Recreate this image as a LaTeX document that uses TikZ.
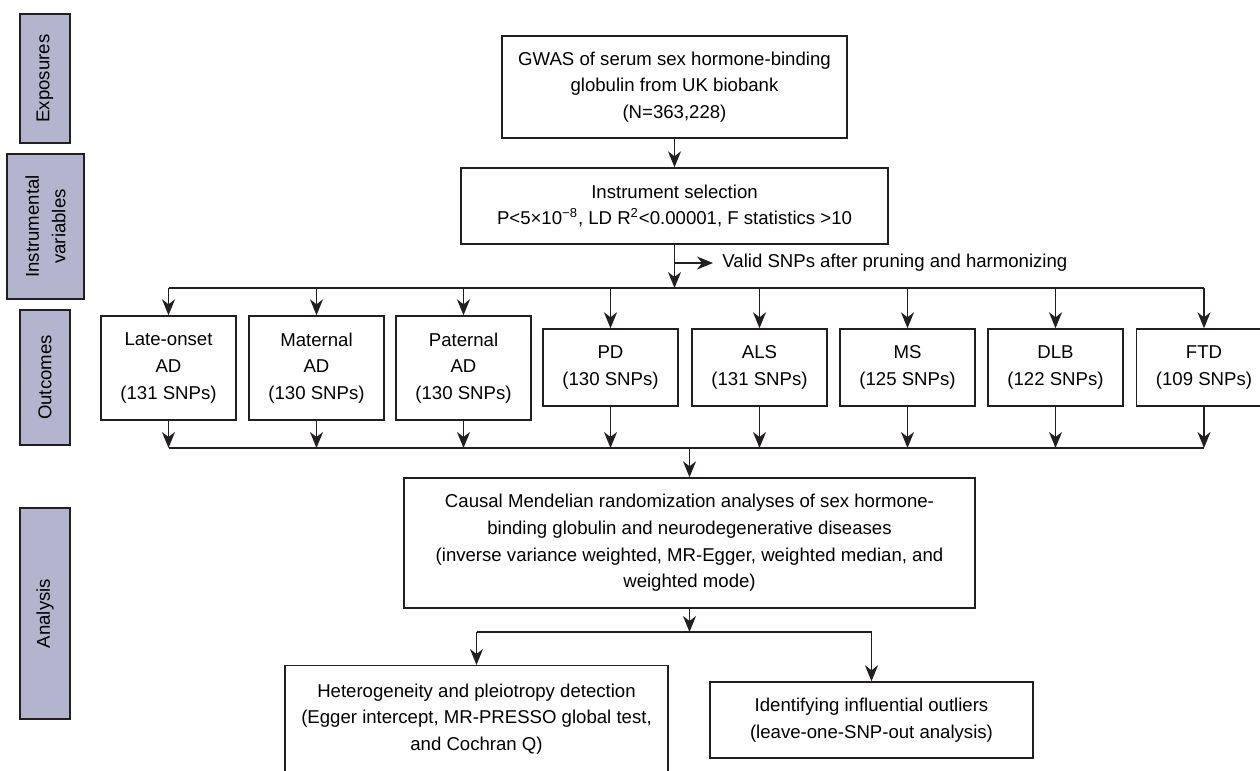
\documentclass[tikz,border=0pt]{standalone}
\usepackage{fontspec}
\setmainfont{Liberation Sans}
\usepackage{tikz}
\usetikzlibrary{arrows.meta}
\definecolor{sidefill}{HTML}{B3B5CE}
\definecolor{linegray}{HTML}{231F20}
\tikzset{
	box/.style={draw=linegray, line width=0.7pt, align=center, inner sep=0pt},
	sidebox/.style={box, fill=sidefill, rotate=90},
	outbox/.style={box, minimum width=67.5pt},
	arr/.style={draw=linegray, line width=0.7pt, -{Stealth[length=8pt,width=6.5pt,inset=2.5pt]}},
	bus/.style={draw=linegray, line width=0.7pt}
}

\begin{document}
\begin{tikzpicture}[x=0.5pt,y=-0.5pt,font=\fontsize{9.3}{13.3}\selectfont]
				\useasboundingbox (0,0) rectangle (1260,771);
				\clip (0,0) rectangle (1260,771);
				
				\node[sidebox, minimum width=64.5pt, minimum height=25pt] (expo) at (45,78.5) {Exposures};
				\node[sidebox, minimum width=72.5pt, minimum height=38.5pt] (instvar) at (45.5,226.5) {Instrumental\\variables};
				\node[sidebox, minimum width=67.5pt, minimum height=25pt] (outc) at (45,377.5) {Outcomes};
				\node[sidebox, minimum width=105.5pt, minimum height=25pt] (anal) at (45,613.5) {Analysis};
				
				\node[box, minimum width=172.5pt, minimum height=51pt] (gwas) at (674.5,87) {GWAS of serum sex hormone-binding\\globulin from UK biobank\\(N=363,228)};
				\node[box, minimum width=213.5pt, minimum height=38pt] (instsel) at (674.5,206) {Instrument selection\\P<5×10\textsuperscript{−8}, LD R\textsuperscript{2}<0.00001, F statistics >10};
				\node[anchor=west, inner sep=0pt, inner xsep=4.5pt] (valid) at (713,263) {Valid SNPs after pruning and harmonizing};
				
				\node[outbox, minimum height=52pt] (lateAD) at (168.5,368) {Late-onset\\AD\\(131 SNPs)};
				\node[outbox, minimum height=52pt] (matAD) at (316.5,368) {Maternal\\AD\\(130 SNPs)};
				\node[outbox, minimum height=52pt] (patAD) at (463.5,368) {Paternal\\AD\\(130 SNPs)};
				\node[outbox, minimum height=38.5pt] (pd) at (610.5,367.5) {PD\\(130 SNPs)};
				\node[outbox, minimum height=38.5pt] (als) at (759.5,367.5) {ALS\\(131 SNPs)};
				\node[outbox, minimum height=38.5pt] (ms) at (907.5,367.5) {MS\\(125 SNPs)};
				\node[outbox, minimum height=38.5pt] (dlb) at (1055.5,367.5) {DLB\\(122 SNPs)};
				\node[outbox, minimum height=38.5pt] (ftd) at (1204,367.5) {FTD\\(109 SNPs)};
				
				\node[box, minimum width=285.5pt, minimum height=65pt] (causal) at (689.5,543) {Causal Mendelian randomization analyses of sex hormone-\\binding globulin and neurodegenerative diseases\\(inverse variance weighted, MR-Egger, weighted median, and\\weighted mode)};
				\node[box, anchor=north, minimum width=191.5pt, inner ysep=9pt] (hetero) at (476.5,665) {Heterogeneity and pleiotropy detection\\(Egger intercept, MR-PRESSO global test,\\and Cochran Q)\\~};
				\node[box, minimum width=161.5pt, minimum height=38pt] (outl) at (871.5,720) {Identifying influential outliers\\(leave-one-SNP-out analysis)};
				
				\coordinate (topbus) at (674.5,288);
				\coordinate (botbus) at (689.5,448);
				\coordinate (split) at (689.5,632);
				
				\draw[arr] (gwas.south) -- (instsel.north);
				\draw[arr] (instsel.south) -- (topbus);
				\draw[arr] (instsel.south |- valid.west) -- (valid.west);
				\draw[bus] (lateAD.north |- topbus) -- (ftd.north |- topbus);
				\draw[arr] (lateAD.north |- topbus) -- (lateAD.north);
				\draw[arr] (matAD.north |- topbus) -- (matAD.north);
				\draw[arr] (patAD.north |- topbus) -- (patAD.north);
				\draw[arr] (pd.north |- topbus) -- (pd.north);
				\draw[arr] (als.north |- topbus) -- (als.north);
				\draw[arr] (ms.north |- topbus) -- (ms.north);
				\draw[arr] (dlb.north |- topbus) -- (dlb.north);
				\draw[arr] (ftd.north |- topbus) -- (ftd.north);
				
				\draw[arr] (lateAD.south) -- (lateAD.south |- botbus);
				\draw[arr] (matAD.south) -- (matAD.south |- botbus);
				\draw[arr] (patAD.south) -- (patAD.south |- botbus);
				\draw[arr] (pd.south) -- (pd.south |- botbus);
				\draw[arr] (als.south) -- (als.south |- botbus);
				\draw[arr] (ms.south) -- (ms.south |- botbus);
				\draw[arr] (dlb.south) -- (dlb.south |- botbus);
				\draw[arr] (ftd.south) -- (ftd.south |- botbus);
				\draw[bus] (lateAD.south |- botbus) -- (ftd.south |- botbus);
				\draw[arr] (botbus) -- (causal.north);
				
				\draw[arr] (causal.south) -- (split);
				\draw[bus] (hetero.north |- split) -- (outl.north |- split);
				\draw[arr] (hetero.north |- split) -- (hetero.north);
				\draw[arr] (outl.north |- split) -- (outl.north);
			\end{tikzpicture}
\end{document}
